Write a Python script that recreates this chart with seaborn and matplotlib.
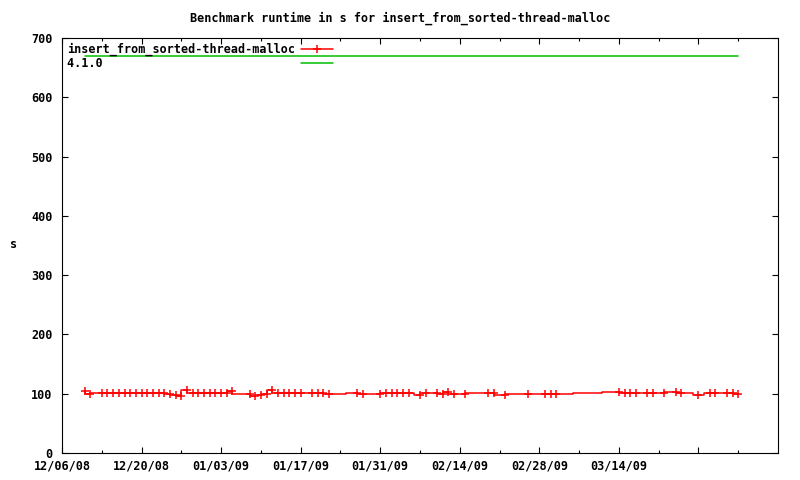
import pandas as pd
import matplotlib
matplotlib.use("Agg")
import matplotlib.pyplot as plt
import seaborn as sns

# Datos (tiempo de ejecucion en s)
fechas = ['2008-12-10', '2008-12-11', '2008-12-13', '2008-12-14', '2008-12-15', '2008-12-16',
          '2008-12-17', '2008-12-18', '2008-12-19', '2008-12-20', '2008-12-21', '2008-12-22',
          '2008-12-23', '2008-12-24', '2008-12-25', '2008-12-26', '2008-12-27', '2008-12-28',
          '2008-12-29', '2008-12-30', '2008-12-31', '2009-01-01', '2009-01-02', '2009-01-03',
          '2009-01-04', '2009-01-05', '2009-01-08', '2009-01-09', '2009-01-10', '2009-01-11',
          '2009-01-12', '2009-01-13', '2009-01-14', '2009-01-15', '2009-01-16', '2009-01-17',
          '2009-01-19', '2009-01-20', '2009-01-21', '2009-01-22', '2009-01-25', '2009-01-27',
          '2009-01-28', '2009-01-31', '2009-02-01', '2009-02-02', '2009-02-03', '2009-02-04',
          '2009-02-05', '2009-02-06', '2009-02-07', '2009-02-08', '2009-02-10', '2009-02-11',
          '2009-02-12', '2009-02-13', '2009-02-15', '2009-02-19', '2009-02-20', '2009-02-22',
          '2009-02-26', '2009-03-01', '2009-03-02', '2009-03-03', '2009-03-06', '2009-03-11',
          '2009-03-14', '2009-03-15', '2009-03-16', '2009-03-17', '2009-03-19', '2009-03-20',
          '2009-03-22', '2009-03-24', '2009-03-25', '2009-03-27', '2009-03-28', '2009-03-29',
          '2009-03-30', '2009-03-31', '2009-04-02', '2009-04-03', '2009-04-04']
runtime = [104, 100, 102, 101, 101, 102,
           101, 102, 101, 101, 101, 102,
           101, 101, 99, 98, 96, 106,
           102, 101, 101, 102, 101, 101,
           102, 105, 99, 96, 97, 99,
           107, 101, 101, 101, 101, 101,
           101, 101, 101, 99, 99, 101,
           100, 100, 102, 101, 101, 101,
           101, 101, 98, 101, 101, 100,
           103, 100, 100, 101, 101, 98,
           99, 99, 99, 99, 99, 101,
           103, 101, 101, 101, 101, 101,
           101, 103, 101, 101, 98, 98,
           101, 101, 101, 101, 99]
# puntos de la serie que no llevan marca (+)
sin_marca = ['2009-01-25', '2009-02-06', '2009-03-06', '2009-03-11', '2009-03-27', '2009-03-29']

# linea de referencia 4.1.0
ref_fechas = ['2008-12-10', '2009-04-04']
ref_runtime = [670, 670]

tick_fechas = ['2008-12-06', '2008-12-20', '2009-01-03', '2009-01-17', '2009-01-31',
               '2009-02-14', '2009-02-28', '2009-03-14', '2009-03-28']
tick_labels = ['12/06/08', '12/20/08', '01/03/09', '01/17/09', '01/31/09',
               '02/14/09', '02/28/09', '03/14/09', '']

serie = "insert_from_sorted-thread-malloc"

df = pd.DataFrame({"fecha": pd.to_datetime(fechas), "s": runtime})
ref = pd.DataFrame({"fecha": pd.to_datetime(ref_fechas), "s": ref_runtime})
marcas = [i for i, f in enumerate(fechas) if f not in sin_marca]

sns.set_style("white")
plt.rcParams['font.family'] = ['DejaVu Sans Mono']
plt.rcParams['font.weight'] = 'bold'
plt.rcParams['font.size'] = 8.5
for k in ['text.color', 'axes.labelcolor', 'xtick.color', 'ytick.color']:
    plt.rcParams[k] = 'black'

fig = plt.figure(figsize=(8, 4.8), dpi=100)
ax = fig.add_axes([62 / 800, 27 / 480, 716 / 800, 415 / 480])

# estilo "fsteps" de gnuplot: primero el salto vertical, luego la horizontal
sns.lineplot(x="fecha", y="s", data=df, ax=ax, color="#ff0000", linewidth=1.1,
             drawstyle="steps-pre", marker="+", markersize=6, markeredgewidth=1.1,
             markeredgecolor="#ff0000", markevery=marcas, label=serie)
sns.lineplot(x="fecha", y="s", data=ref, ax=ax, color="#00c000", linewidth=1.1,
             label="4.1.0")

ax.set_xlim(pd.Timestamp('2008-12-06'), pd.Timestamp('2009-04-11'))
ax.set_ylim(0, 700)
ax.set_yticks(range(0, 701, 100))
ax.set_xticks(pd.to_datetime(tick_fechas))
ax.set_xticklabels(tick_labels)
ax.set_xticks(pd.date_range('2008-12-13', '2009-04-11', freq='14D'), minor=True)
ax.set_xlabel("")
ax.set_ylabel("")

for sp in ax.spines.values():
    sp.set_visible(True)
    sp.set_color("black")
    sp.set_linewidth(0.8)
ax.tick_params(which="both", direction="in", top=True, right=True, bottom=True, left=True,
               width=0.8, color="black", labelsize=8.5)
ax.tick_params(which="major", length=4)
ax.tick_params(which="minor", length=2)
ax.tick_params(axis="y", pad=7)
ax.tick_params(axis="x", pad=5)

# leyenda estilo gnuplot: texto primero, muestra a la derecha
ancho = max(len(serie), len("4.1.0"))
h, l = ax.get_legend_handles_labels()
ax.legend(h, [t.ljust(ancho) for t in l], loc="upper left", frameon=False, markerfirst=False,
          handlelength=2.7, handletextpad=0.5, labelspacing=0.05, borderaxespad=0.2,
          borderpad=0.2, prop={"family": "DejaVu Sans Mono", "weight": "bold", "size": 8.5})

fig.text(0.5, 1 - 18 / 480, "Benchmark runtime in s for " + serie, ha="center", va="center",
         fontsize=8.5, fontweight="bold")
fig.text(14 / 800, 1 - 245 / 480, "s", ha="center", va="center", fontsize=8.5, fontweight="bold")

fig.savefig("out.png", dpi=100)
